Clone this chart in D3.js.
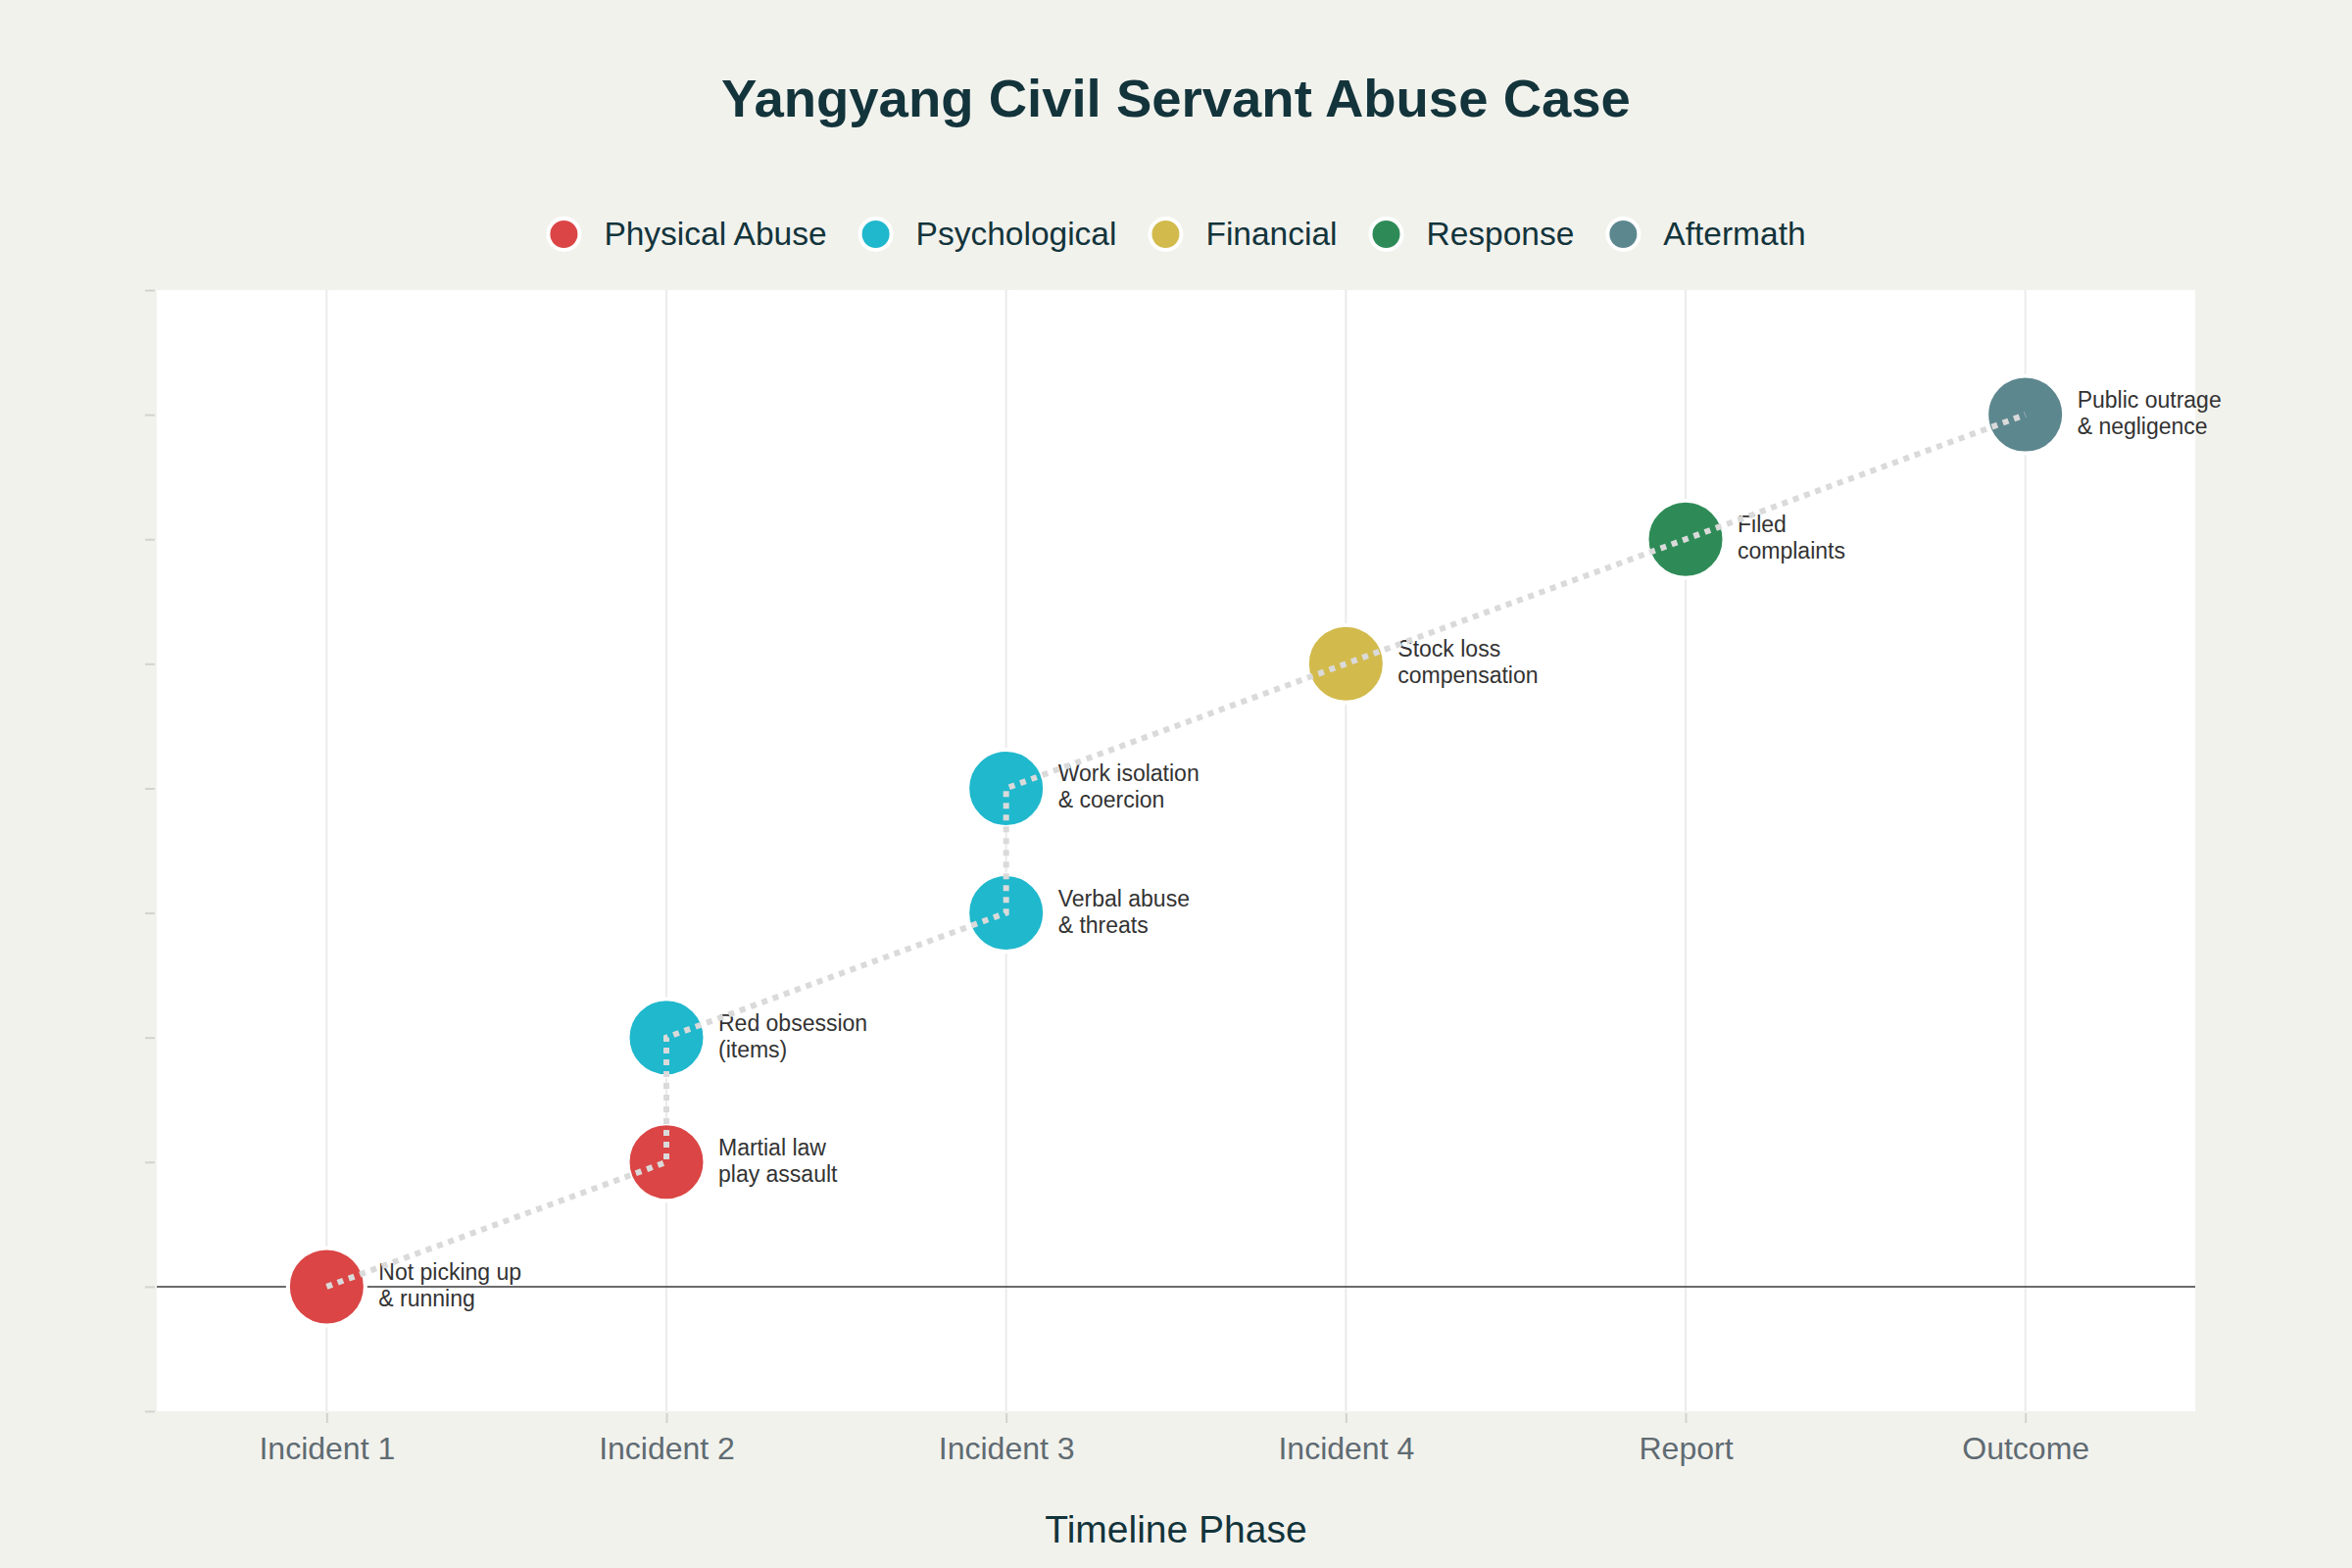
<!DOCTYPE html>
<html>
<head>
<meta charset="utf-8">
<script src="https://cdn.jsdelivr.net/npm/d3@7"></script>
<style>
  body { margin: 0; background: #f2f2ed; }
  text { font-family: "Liberation Sans", Arial, sans-serif; }
</style>
</head>
<body>
<div id="chart"></div>
<script>
// Chart data
var phases = ["Incident 1", "Incident 2", "Incident 3", "Incident 4", "Report", "Outcome"];
var categories = ["Physical Abuse", "Psychological", "Financial", "Response", "Aftermath"];
var categoryColors = ["#db4545", "#1fb8cd", "#d2ba4c", "#2e8b57", "#5d878f"];

var eventPhase = ["Incident 1", "Incident 2", "Incident 2", "Incident 3", "Incident 3", "Incident 4", "Report", "Outcome"];
var eventStep = [0, 1, 2, 3, 4, 5, 6, 7];
var eventCategory = ["Physical Abuse", "Physical Abuse", "Psychological", "Psychological", "Psychological", "Financial", "Response", "Aftermath"];
var eventLabel = [
  ["Not picking up", "& running"],
  ["Martial law", "play assault"],
  ["Red obsession", "(items)"],
  ["Verbal abuse", "& threats"],
  ["Work isolation", "& coercion"],
  ["Stock loss", "compensation"],
  ["Filed", "complaints"],
  ["Public outrage", "& negligence"]
];
var yTicks = [-1, 0, 1, 2, 3, 4, 5, 6, 7, 8];

// SVG area
var svgWidth = 2400;
var svgHeight = 1600;
var margin = { top: 296, right: 160, bottom: 160, left: 160 };
var chartWidth = svgWidth - margin.left - margin.right;
var chartHeight = svgHeight - margin.top - margin.bottom;

var svg = d3.select("#chart")
  .append("svg")
  .attr("width", svgWidth)
  .attr("height", svgHeight)
  .style("background", "#f2f2ed");

// rows built from the arrays
var events = eventPhase.map((p, i) => ({
  phase: p,
  step: eventStep[i],
  category: eventCategory[i],
  label: eventLabel[i]
}));

var color = d3.scaleOrdinal().domain(categories).range(categoryColors);

var xScale = d3.scalePoint()
  .domain(phases)
  .range([0, chartWidth])
  .padding(0.5);

var yScale = d3.scaleLinear()
  .domain([-1, 8])
  .range([chartHeight, 0]);

var chartGroup = svg.append("g")
  .attr("transform", `translate(${margin.left}, ${margin.top})`);

// white plot background
chartGroup.append("rect")
  .attr("width", chartWidth)
  .attr("height", chartHeight)
  .attr("fill", "#ffffff");

// vertical gridlines
chartGroup.selectAll(".grid")
  .data(phases)
  .enter()
  .append("line")
  .attr("x1", d => xScale(d))
  .attr("x2", d => xScale(d))
  .attr("y1", 0)
  .attr("y2", chartHeight)
  .attr("stroke", "#ebebeb")
  .attr("stroke-width", 2);

// zero line
chartGroup.append("line")
  .attr("x1", 0)
  .attr("x2", chartWidth)
  .attr("y1", yScale(0))
  .attr("y2", yScale(0))
  .attr("stroke", "#3a3a3a")
  .attr("stroke-width", 1.5);

// x axis
var xAxis = chartGroup.append("g")
  .attr("transform", `translate(0, ${chartHeight + 2})`)
  .call(d3.axisBottom(xScale).tickSize(10).tickPadding(14));
xAxis.select(".domain").remove();
xAxis.selectAll(".tick line").attr("stroke", "#d3d3ce").attr("stroke-width", 2);
xAxis.selectAll(".tick text")
  .attr("fill", "#5f6b72")
  .attr("font-size", 32)
  .attr("font-family", "Liberation Sans, Arial, sans-serif");

// y axis (ticks only)
var yAxis = chartGroup.append("g")
  .attr("transform", "translate(-2, 0)")
  .call(d3.axisLeft(yScale).tickValues(yTicks).tickSize(10).tickFormat(""));
yAxis.select(".domain").remove();
yAxis.selectAll(".tick line").attr("stroke", "#d3d3ce").attr("stroke-width", 2);

// markers
chartGroup.selectAll(".dot")
  .data(events)
  .enter()
  .append("circle")
  .attr("cx", d => xScale(d.phase))
  .attr("cy", d => yScale(d.step))
  .attr("r", 39.5)
  .attr("fill", d => color(d.category))
  .attr("stroke", "#ffffff")
  .attr("stroke-width", 4);

// event labels
var labels = chartGroup.selectAll(".label")
  .data(events)
  .enter()
  .append("text")
  .attr("x", d => xScale(d.phase) + 53)
  .attr("y", d => yScale(d.step) - 7)
  .attr("font-size", 23)
  .attr("fill", "#333333");
labels.selectAll("tspan")
  .data(d => d.label.map(t => ({ t: t, x: xScale(d.phase) + 53 })))
  .enter()
  .append("tspan")
  .attr("x", d => d.x)
  .attr("dy", (d, i) => i === 0 ? 0 : 27)
  .text(d => d.t);

// dotted connecting line
var line = d3.line()
  .x(d => xScale(d.phase))
  .y(d => yScale(d.step));
chartGroup.append("path")
  .datum(events)
  .attr("d", line)
  .attr("fill", "none")
  .attr("stroke", "#dadada")
  .attr("stroke-width", 6)
  .attr("stroke-dasharray", "6,6");

// title
svg.append("text")
  .attr("x", svgWidth / 2)
  .attr("y", 119)
  .attr("text-anchor", "middle")
  .attr("font-size", 54.5)
  .attr("font-weight", "bold")
  .attr("fill", "#13343b")
  .text("Yangyang Civil Servant Abuse Case");

// x axis title
svg.append("text")
  .attr("x", svgWidth / 2)
  .attr("y", 1574)
  .attr("text-anchor", "middle")
  .attr("font-size", 39)
  .attr("fill", "#13343b")
  .text("Timeline Phase");

// legend, centred under the title
var legend = svg.append("g");
var legendItems = legend.selectAll("g")
  .data(categories)
  .enter()
  .append("g");
legendItems.append("circle")
  .attr("r", 16)
  .attr("cy", 0)
  .attr("fill", d => color(d))
  .attr("stroke", "#ffffff")
  .attr("stroke-width", 4);
legendItems.append("text")
  .attr("x", 41)
  .attr("y", 11)
  .attr("font-size", 33.5)
  .attr("fill", "#13343b")
  .text(d => d);

var xPos = 0;
legendItems.each(function () {
  var w = d3.select(this).select("text").node().getComputedTextLength();
  d3.select(this).attr("transform", `translate(${xPos}, 0)`);
  xPos += 41 + w + 50;
});
var legendWidth = xPos - 50 + 18;
legend.attr("transform", `translate(${svgWidth / 2 - legendWidth / 2 + 18}, 239)`);
</script>
</body>
</html>
